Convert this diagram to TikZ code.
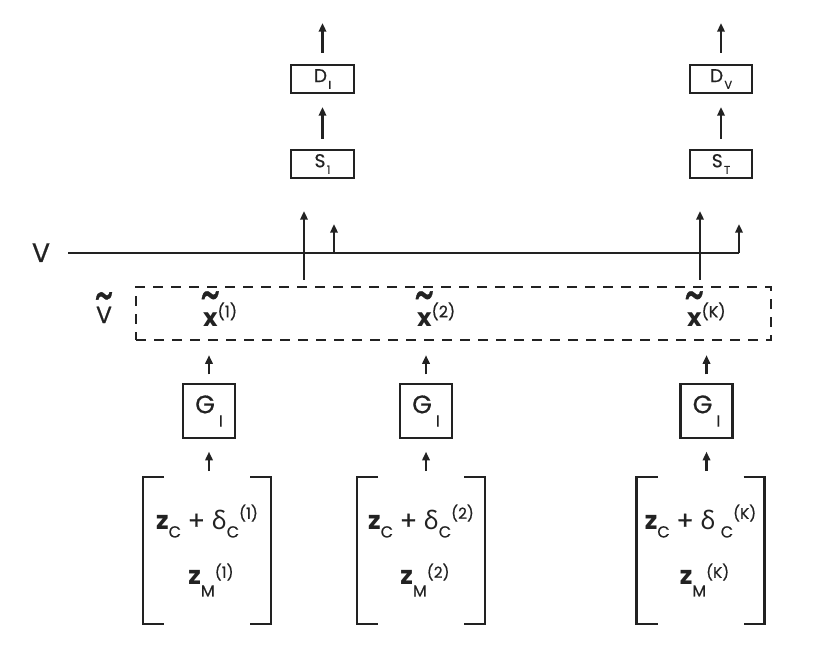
\documentclass[tikz,border=0pt]{standalone}
\usepackage{fontspec}
\setmainfont{Poppins}[UprightFeatures={FakeBold=0.6}]
\newfontfamily\grk{Noto Sans}
\usetikzlibrary{arrows.meta,calc}
\definecolor{ink}{HTML}{222222}
\newcommand\fs[1]{\fontsize{#1}{#1}\selectfont}
\newcommand\lowr[3]{\raisebox{-#1}{\fs{#2}#3}}
\newcommand\rais[3]{\raisebox{#1}{\fs{#2}#3}}
\newcommand\tld[3]{\setbox0\hbox{#3}\hbox{\rlap{\hbox to\wd0{\hss\raisebox{#1}{\scalebox{1.55}[2.2]{\textasciitilde}}\hss}}\box0}}
\begin{document}
\begin{tikzpicture}[x=0.75pt,y=-0.75pt,
  every node/.style={inner sep=0pt,outer sep=0pt,text=ink},
  arr/.style={draw=ink,line width=1.7pt,-{Triangle[length=6.5pt,width=5.5pt]}},
  vl/.style={draw=ink,line width=2.2pt},
  smallbox/.style={draw=ink,line width=1.7pt,minimum width=47pt,minimum height=21pt,font=\fs{14pt}},
  gbox/.style={draw=ink,line width=1.7pt,minimum width=39pt,minimum height=40pt,font=\fs{19pt}},
  dbx/.style={draw=ink,line width=1.65pt,dash pattern=on 7.5pt off 6pt,minimum width=476pt,minimum height=40pt},
  brk/.style={minimum width=96pt,minimum height=110pt,align=center,font=\fontsize{19pt}{41.25pt}\selectfont},
  bline/.style={draw=ink,line width=1.7pt}]
\useasboundingbox (0,0) rectangle (830,648);

% top boxes
\node[smallbox] (DI) at (322.5,79) {D\kern1pt\lowr{5pt}{8.5pt}{I}};
\node[smallbox] (S1) at (322.5,164) {S\kern1pt\lowr{5pt}{8.5pt}{1}};
\node[smallbox] (DV) at (721,79) {D\kern1pt\lowr{5pt}{8.5pt}{V}};
\node[smallbox] (ST) at (721,164) {S\kern1pt\lowr{5pt}{8.5pt}{T}};

% labels
\node[anchor=base,font=\fs{20pt}] (Vl) at (41,262) {V};
\node[anchor=base,font=\fs{17.5pt}] (Vt) at (104,323) {\tld{8pt}{}{V}};

% dashed box and its texts
\node[dbx] (dbox) at (453.5,313.5) {};
\node[anchor=base west,font=\fs{18.5pt}] (x1) at (203,326) {\tld{10pt}{}{\bfseries x}\rais{6.5pt}{12pt}{(1)}};
\node[anchor=base west,font=\fs{18.5pt}] (x2) at (417,326) {\tld{10pt}{}{\bfseries x}\rais{6.5pt}{12pt}{(2)}};
\node[anchor=base west,font=\fs{18.5pt}] (xK) at (687,326) {\tld{10pt}{}{\bfseries x}\rais{6.5pt}{12pt}{(K)}};

% generators
\node[gbox] (G1) at (209,411) {G\kern3pt\lowr{10pt}{12pt}{I}};
\node[gbox] (G2) at (426,411) {G\kern3pt\lowr{10pt}{12pt}{I}};
\node[gbox] (G3) at (706.5,411) {G\kern3pt\lowr{10pt}{12pt}{I}};

% latent vectors
\node[brk] (B1) at (207,550.5) {{\bfseries z}\lowr{6pt}{12pt}{C} + {\grk δ}\lowr{6pt}{12pt}{C}\rais{8pt}{11.5pt}{(1)}\\
  \hspace*{6pt}{\bfseries z}\lowr{9pt}{12pt}{M}\rais{5pt}{11.5pt}{(1)}};
\node[brk] (B2) at (421,550.5) {{\bfseries z}\lowr{6pt}{12pt}{C} + {\grk δ}\lowr{6pt}{12pt}{C}\rais{8pt}{11.5pt}{(2)}\\
  \hspace*{6pt}{\bfseries z}\lowr{9pt}{12pt}{M}\rais{5pt}{11.5pt}{(2)}};
\node[brk] (B3) at (700.5,550.5) {{\bfseries z}\lowr{6pt}{12pt}{C} + {\grk δ}\kern4pt\lowr{6pt}{12pt}{C}\rais{8pt}{11.5pt}{(K)}\\
  \hspace*{6pt}{\bfseries z}\lowr{9pt}{12pt}{M}\rais{5pt}{11.5pt}{(K)}};

% brackets
\foreach \b in {B1,B2,B3}{
  \draw[bline] ($(\b.north west)+(21,0)$) -- (\b.north west) -- (\b.south west) -- ($(\b.south west)+(21,0)$);
  \draw[bline] ($(\b.north east)+(-21,0)$) -- (\b.north east) -- (\b.south east) -- ($(\b.south east)+(-21,0)$);
}

% arrows up through generators
\foreach \g/\b in {G1/B1,G2/B2,G3/B3}{
  \draw[arr] ($(\b.north -| \g.south)+(0,-6)$) -- ($(\g.south)+(0,14)$);
  \draw[arr] ($(\g.north)+(0,-10)$) -- ($(\g.north |- dbox.south)+(0,15)$);
}

% V line
\coordinate (vs) at (68,253);
\coordinate (ve) at (739,224);
\coordinate (va) at (334,224);
\draw[vl] (vs) -- (ve |- vs);
\draw[arr] (ve |- vs) -- (ve);
\draw[arr] (va |- vs) -- (va);

% long arrows from the dashed box to the S boxes
\coordinate (c1) at (304,0);
\coordinate (c2) at (700,0);
\draw[arr] ($(c1 |- dbox.north)+(0,-7)$) -- ($(c1 |- S1.south)+(0,33)$);
\draw[arr] ($(c2 |- dbox.north)+(0,-7)$) -- ($(c2 |- ST.south)+(0,33)$);

% arrows up the top column
\foreach \s/\d in {S1/DI,ST/DV}{
  \draw[arr] ($(\s.north)+(0,-11)$) -- ($(\d.south)+(0,14)$);
  \draw[arr] ($(\d.north)+(0,-12)$) -- ($(\d.north)+(0,-42)$);
}
\end{tikzpicture}
\end{document}
